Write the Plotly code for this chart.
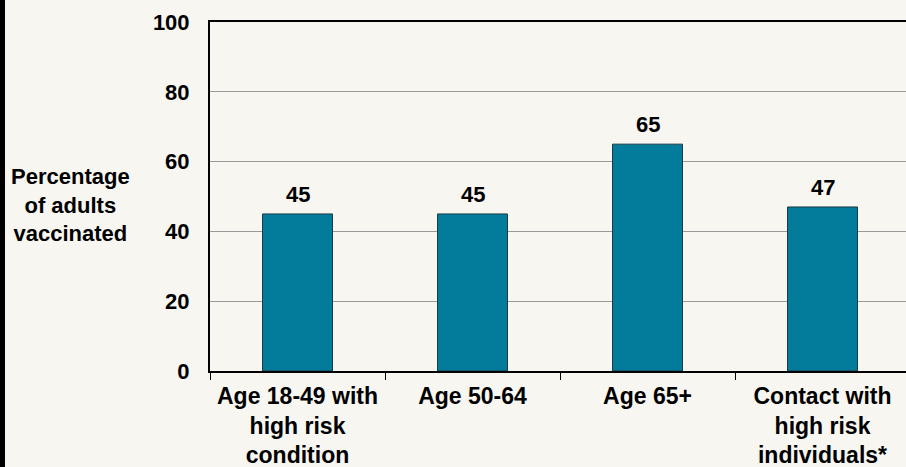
import plotly.graph_objects as go

categories = ["Age 18-49 with<br>high risk<br>condition", "Age 50-64", "Age 65+",
              "Contact with<br>high risk<br>individuals*"]
values = [45, 45, 65, 47]
y_ticks = [0, 20, 40, 60, 80, 100]
y_title = "Percentage<br>of adults<br>vaccinated"

BG = "#F7F6F1"
BAR = "#037B9B"
FONT = dict(family="Liberation Sans, Arial, sans-serif", size=22, color="#000000", weight=700)
XFONT = dict(FONT, size=23)

W, H = 906, 467
L, R, T, B = 210, 0, 22, 96
pw = W - L - R
ph = H - T - B
cat_w = 175

fig = go.Figure()
fig.add_trace(go.Bar(
    x=categories, y=values,
    marker=dict(color=BAR, line=dict(color="#1C3B44", width=1)),
    width=0.4,
    hoverinfo="skip",
))

for c, v in zip(categories, values):
    fig.add_annotation(x=c, y=v, text=str(v), showarrow=False, xref="x", yref="y",
                       yanchor="bottom", yshift=5, font=FONT)

fig.add_annotation(x=(70 - L) / pw, y=(371 - 205) / ph, xref="paper", yref="paper",
                   text=y_title, showarrow=False, xanchor="center", yanchor="middle",
                   align="center", font=FONT)

# left dark stripe (full height)
fig.add_annotation(x=-L / pw, y=(H - B - H / 2) / ph, xref="paper", yref="paper", text=" ",
                   showarrow=False, xanchor="left", yanchor="middle",
                   width=5, height=H + 20, bgcolor="#000000", borderpad=0,
                   borderwidth=0, font=dict(size=1))

fig.update_layout(
    width=W, height=H,
    margin=dict(l=L, r=R, t=T, b=B, autoexpand=False),
    paper_bgcolor=BG, plot_bgcolor=BG,
    showlegend=False,
    font=FONT,
    xaxis=dict(
        type="category",
        range=[-0.5, -0.5 + pw / cat_w],
        tickson="boundaries", ticks="outside", ticklen=7, tickwidth=1, tickcolor="#000000",
        showline=True, linecolor="#000000", linewidth=2, mirror=True,
        showgrid=False, zeroline=False, tickfont=XFONT, ticklabelstandoff=3,
        automargin=False,
    ),
    yaxis=dict(
        range=[0, 100], tickmode="array", tickvals=y_ticks,
        showline=True, linecolor="#000000", linewidth=2,
        showgrid=True, gridcolor="#999999", gridwidth=1,
        zeroline=False, ticks="", tickfont=FONT, ticklabelstandoff=14,
        automargin=False,
    ),
)

fig.write_html(
    "out.html",
    config={"displayModeBar": False},
    post_script="document.body.style.margin='0';document.body.style.background='%s';" % BG,
)
